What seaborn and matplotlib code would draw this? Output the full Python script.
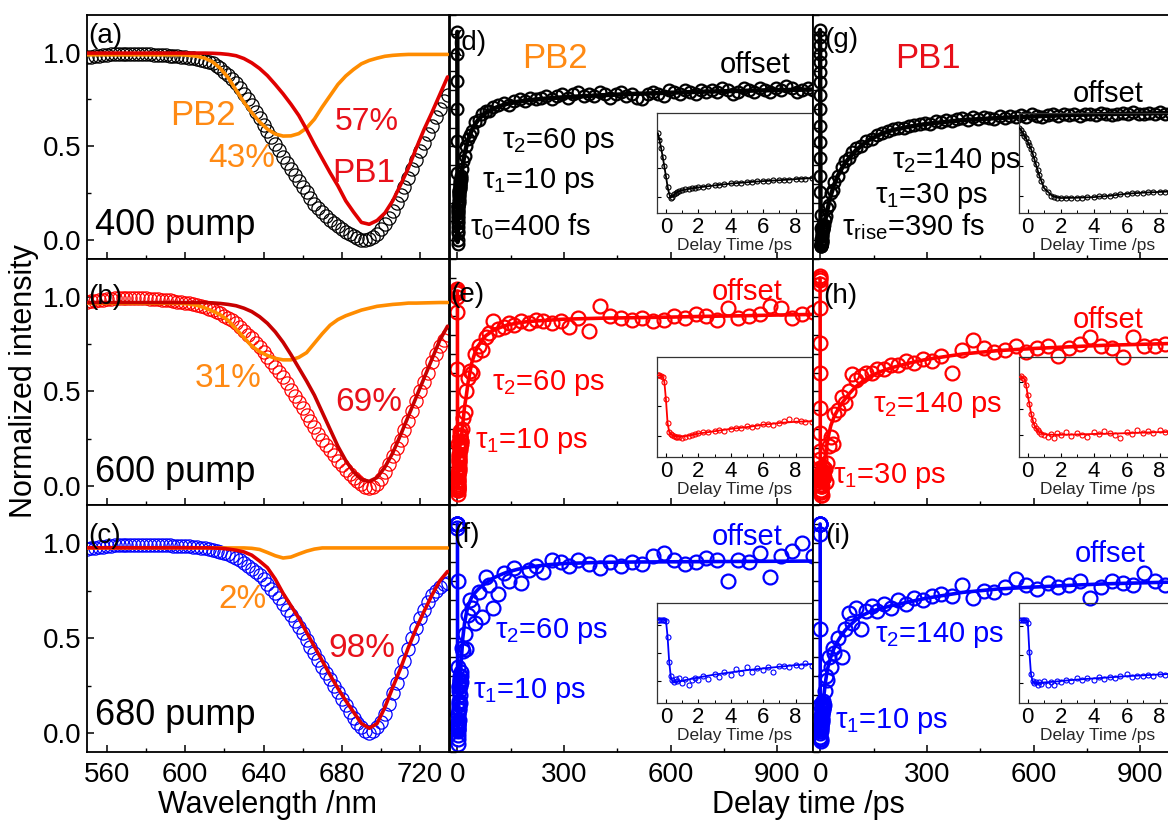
import numpy as np
import matplotlib
matplotlib.use("Agg")
import matplotlib.pyplot as plt
import seaborn as sns
from matplotlib.ticker import MultipleLocator, NullFormatter

# ---------------- data: steady-state spectra (panels a-c) ----------------
wavelength_fine = np.arange(550, 736, 2)   # measured points, 550 ... 734 nm (93)
wavelength = np.arange(550, 738, 4)        # fitted components, 550 ... 734 nm (47)

spec_a_data = [0.975, 0.978, 0.98, 0.983, 0.985, 0.988, 0.99, 0.99, 0.99, 0.99,
               0.99, 0.99, 0.99, 0.99, 0.99, 0.99, 0.99, 0.989, 0.988, 0.987,
               0.985, 0.984, 0.982, 0.98, 0.978, 0.975, 0.972, 0.969, 0.965, 0.96,
               0.955, 0.95, 0.943, 0.93, 0.915, 0.898, 0.88, 0.86, 0.84, 0.81,
               0.78, 0.75, 0.72, 0.685, 0.65, 0.615, 0.58, 0.548, 0.515, 0.48,
               0.445, 0.412, 0.38, 0.347, 0.315, 0.285, 0.255, 0.225, 0.195, 0.172,
               0.15, 0.128, 0.108, 0.09, 0.075, 0.06, 0.045, 0.032, 0.02, 0.01,
               0.003, 0.0, 0.005, 0.017, 0.035, 0.058, 0.085, 0.118, 0.155, 0.196,
               0.24, 0.285, 0.33, 0.377, 0.425, 0.473, 0.52, 0.565, 0.61, 0.655,
               0.70, 0.74, 0.775]
spec_a_pb1 = [0.997, 0.997, 0.997, 0.997, 0.997, 0.997, 0.997, 0.997, 0.997, 0.997,
              0.997, 0.997, 0.997, 0.997, 0.997, 0.997, 0.996, 0.994, 0.99, 0.983,
              0.968, 0.945, 0.915, 0.877, 0.83, 0.78, 0.725, 0.665, 0.59, 0.51,
              0.435, 0.36, 0.29, 0.21, 0.15, 0.095, 0.085, 0.105, 0.145, 0.21,
              0.295, 0.385, 0.49, 0.59, 0.68, 0.775, 0.87]
spec_a_pb2 = [0.988, 0.988, 0.988, 0.988, 0.988, 0.988, 0.988, 0.988, 0.988, 0.988,
              0.988, 0.988, 0.988, 0.985, 0.98, 0.97, 0.95, 0.915, 0.865, 0.80,
              0.735, 0.68, 0.63, 0.592, 0.566, 0.555, 0.556, 0.568, 0.598, 0.645,
              0.71, 0.77, 0.83, 0.875, 0.91, 0.94, 0.958, 0.97, 0.98, 0.985,
              0.988, 0.99, 0.99, 0.99, 0.99, 0.99, 0.99]

spec_b_data = [0.975, 0.978, 0.98, 0.983, 0.985, 0.988, 0.99, 0.993, 0.995, 0.995,
               0.995, 0.995, 0.995, 0.994, 0.993, 0.992, 0.99, 0.989, 0.987, 0.985,
               0.983, 0.981, 0.978, 0.975, 0.972, 0.969, 0.965, 0.961, 0.957, 0.951,
               0.945, 0.938, 0.93, 0.921, 0.912, 0.901, 0.89, 0.875, 0.86, 0.84,
               0.82, 0.80, 0.78, 0.757, 0.733, 0.707, 0.68, 0.655, 0.63, 0.604,
               0.577, 0.544, 0.51, 0.478, 0.445, 0.41, 0.375, 0.342, 0.31, 0.277,
               0.245, 0.217, 0.19, 0.162, 0.135, 0.11, 0.085, 0.064, 0.045, 0.026,
               0.01, -0.003, -0.01, -0.005, 0.01, 0.038, 0.075, 0.115, 0.16, 0.202,
               0.245, 0.295, 0.345, 0.398, 0.45, 0.50, 0.55, 0.60, 0.655, 0.70,
               0.74, 0.772, 0.80]
spec_b_pb1 = [0.97, 0.97, 0.97, 0.97, 0.97, 0.97, 0.97, 0.97, 0.97, 0.97,
              0.97, 0.97, 0.97, 0.97, 0.97, 0.97, 0.968, 0.965, 0.96, 0.953,
              0.94, 0.922, 0.895, 0.86, 0.815, 0.76, 0.695, 0.625, 0.555, 0.48,
              0.39, 0.30, 0.21, 0.135, 0.075, 0.035, 0.025, 0.045, 0.10, 0.175,
              0.27, 0.37, 0.47, 0.57, 0.67, 0.77, 0.845]
spec_b_pb2 = [0.966, 0.966, 0.966, 0.966, 0.966, 0.966, 0.966, 0.966, 0.966, 0.966,
              0.966, 0.966, 0.965, 0.962, 0.955, 0.942, 0.925, 0.905, 0.875, 0.83,
              0.785, 0.74, 0.71, 0.69, 0.675, 0.667, 0.667, 0.68, 0.705, 0.755,
              0.805, 0.85, 0.88, 0.90, 0.915, 0.93, 0.94, 0.95, 0.955, 0.96,
              0.963, 0.967, 0.967, 0.968, 0.969, 0.97, 0.97]

spec_c_data = [0.97, 0.973, 0.975, 0.978, 0.98, 0.983, 0.985, 0.988, 0.99, 0.99,
               0.99, 0.99, 0.99, 0.99, 0.99, 0.99, 0.99, 0.99, 0.99, 0.989,
               0.988, 0.987, 0.986, 0.985, 0.984, 0.983, 0.982, 0.98, 0.978, 0.975,
               0.972, 0.969, 0.965, 0.96, 0.955, 0.948, 0.94, 0.931, 0.92, 0.908,
               0.895, 0.88, 0.865, 0.848, 0.83, 0.808, 0.785, 0.76, 0.735, 0.708,
               0.68, 0.65, 0.62, 0.59, 0.56, 0.525, 0.49, 0.455, 0.42, 0.385,
               0.35, 0.318, 0.285, 0.25, 0.215, 0.18, 0.145, 0.112, 0.08, 0.052,
               0.03, 0.012, 0.0, 0.01, 0.03, 0.06, 0.10, 0.152, 0.21, 0.265,
               0.32, 0.38, 0.44, 0.498, 0.555, 0.605, 0.65, 0.69, 0.725, 0.75,
               0.77, 0.782, 0.79]
spec_c_pb1 = [0.975, 0.975, 0.975, 0.975, 0.975, 0.975, 0.975, 0.975, 0.975, 0.975,
              0.975, 0.975, 0.975, 0.975, 0.975, 0.975, 0.974, 0.972, 0.968, 0.962,
              0.953, 0.936, 0.905, 0.87, 0.81, 0.735, 0.67, 0.605, 0.53, 0.455,
              0.38, 0.305, 0.235, 0.17, 0.11, 0.05, 0.025, 0.05, 0.135, 0.24,
              0.34, 0.45, 0.55, 0.64, 0.725, 0.80, 0.85]
spec_c_pb2 = [0.974, 0.974, 0.974, 0.974, 0.974, 0.974, 0.974, 0.974, 0.974, 0.974,
              0.974, 0.974, 0.974, 0.974, 0.974, 0.974, 0.974, 0.974, 0.974, 0.974,
              0.974, 0.972, 0.966, 0.95, 0.933, 0.921, 0.926, 0.942, 0.957, 0.968,
              0.974, 0.974, 0.974, 0.974, 0.974, 0.974, 0.974, 0.974, 0.974, 0.974,
              0.974, 0.974, 0.974, 0.974, 0.974, 0.974, 0.974]

# ---------------- data: kinetics (panels d-i) ----------------
t_early = [-0.5, -0.4, -0.3, -0.2, -0.1, 0.0, 0.1, 0.2, 0.3, 0.4, 0.5, 0.6, 0.7, 0.8,
           1.0, 1.2, 1.4, 1.6, 1.8, 2.0, 2.3, 2.6, 3.0, 3.3, 3.6, 4.0, 4.3, 4.6,
           5.0, 5.3, 5.6, 6.0, 6.3, 6.6, 7.0, 7.3, 7.6, 8.0, 8.3, 8.6, 9.0]
t_fit_early = [-0.5, -0.4, -0.3, -0.2, -0.1, 0.0, 0.1, 0.2, 0.3, 0.4, 0.5, 0.7,
               1.0, 1.5, 2.0, 3.0, 4.0, 5.0, 6.0, 7.0, 8.0, 9.0]
t_late = [10, 13, 16, 20, 25, 30, 35, 40, 50, 60, 70, 80, 90, 100, 115, 130, 145, 160,
          180, 200, 220, 240, 265, 290, 315, 340, 370, 400, 430, 460, 490, 520, 550,
          580, 610, 640, 670, 700, 730, 760, 790, 820, 850, 880, 910, 940, 970, 1000]
t_late_dense = [10, 13, 16, 20, 25, 30, 35, 40, 50, 60, 70, 80, 90, 100,
                115, 130, 145, 160, 175, 190, 205, 220, 235, 250,
                265, 280, 295, 310, 325, 340, 355, 370, 385, 400,
                415, 430, 445, 460, 475, 490, 505, 520, 535, 550,
                565, 580, 595, 610, 625, 640, 655, 670, 685, 700,
                715, 730, 745, 760, 775, 790, 805, 820, 835, 850,
                865, 880, 895, 910, 925, 940, 955, 970, 985, 1000]
t_fit_late = [10, 15, 20, 25, 30, 40, 50, 60, 70, 80, 100, 120, 140, 170, 200, 250,
              300, 400, 500, 600, 700, 800, 900, 1000]

d_early = [1.11, 0.99, 0.85, 0.70, 0.53, 0.36, 0.18, 0.04, -0.02, 0.00,
           0.05, 0.07, 0.09, 0.105, 0.12, 0.13, 0.145, 0.15, 0.16, 0.165,
           0.18, 0.185, 0.20, 0.21, 0.22, 0.235, 0.24, 0.25, 0.255, 0.26,
           0.27, 0.275, 0.28, 0.29, 0.29, 0.30, 0.30, 0.31, 0.32, 0.32, 0.33]
d_fit_early = [1.11, 0.99, 0.85, 0.70, 0.53, 0.36, 0.18, 0.05, -0.01, 0.0, 0.04,
               0.085, 0.115, 0.145, 0.165, 0.20, 0.232, 0.255, 0.275, 0.29, 0.31, 0.33]
d_late = [0.34, 0.38, 0.42, 0.45, 0.50, 0.54, 0.56, 0.58, 0.63, 0.64, 0.67, 0.69, 0.69, 0.71,
          0.72, 0.73, 0.72, 0.74, 0.75, 0.74, 0.76, 0.75, 0.76, 0.77,
          0.75, 0.77, 0.78, 0.76, 0.78, 0.79, 0.77, 0.78, 0.77, 0.79,
          0.78, 0.76, 0.78, 0.79, 0.77, 0.78, 0.76, 0.75, 0.78, 0.79,
          0.78, 0.77, 0.80, 0.79, 0.78, 0.80, 0.79, 0.78, 0.80, 0.79,
          0.80, 0.79, 0.81, 0.80, 0.78, 0.79, 0.81, 0.80, 0.79, 0.81,
          0.80, 0.79, 0.81, 0.80, 0.82, 0.81, 0.79, 0.80, 0.81, 0.80]
d_fit_late = [0.33, 0.40, 0.46, 0.50, 0.535, 0.585, 0.62, 0.645, 0.665, 0.68, 0.70, 0.715,
              0.727, 0.738, 0.746, 0.755, 0.762, 0.772, 0.78, 0.786, 0.792, 0.796, 0.80, 0.803]

e_early = [1.03, 1.04, 1.02, 1.00, 0.92, 0.62, 0.22, 0.07, 0.03, 0.01,
           0.00, -0.01, -0.02, -0.01, -0.04, -0.02, 0.00, 0.02, 0.03, 0.05,
           0.06, 0.07, 0.08, 0.10, 0.09, 0.12, 0.14, 0.13, 0.16, 0.15,
           0.17, 0.20, 0.21, 0.19, 0.22, 0.26, 0.29, 0.27, 0.26, 0.24, 0.24]
e_fit_early = [1.03, 1.03, 1.03, 1.01, 0.92, 0.62, 0.22, 0.07, 0.03, 0.01, 0.0,
               -0.01, -0.01, 0.01, 0.04, 0.08, 0.12, 0.15, 0.19, 0.22, 0.24, 0.25]
e_late = [0.22, 0.30, 0.36, 0.39, 0.50, 0.57, 0.61, 0.60, 0.70, 0.74,
          0.72, 0.79, 0.81, 0.87, 0.83, 0.84, 0.86, 0.85, 0.87, 0.86,
          0.88, 0.87, 0.86, 0.87, 0.84, 0.89, 0.82, 0.95, 0.90, 0.89,
          0.88, 0.89, 0.87, 0.88, 0.90, 0.89, 0.91, 0.90, 0.88, 0.94,
          0.89, 0.90, 0.91, 0.95, 0.94, 0.89, 0.91, 0.92]
e_fit_late = [0.24, 0.33, 0.42, 0.48, 0.55, 0.65, 0.71, 0.745, 0.775, 0.795, 0.822, 0.838,
              0.851, 0.862, 0.87, 0.876, 0.882, 0.887, 0.89, 0.893, 0.897, 0.90, 0.904, 0.907]

f_early = [1.10, 1.10, 1.10, 1.10, 1.10, 1.08, 0.80, 0.35, 0.10, 0.02,
           -0.01, 0.05, 0.01, 0.06, -0.03, 0.04, -0.06, 0.03, 0.06, 0.02,
           0.10, 0.05, 0.13, 0.07, 0.16, 0.12, 0.22, 0.15, 0.25, 0.17,
           0.24, 0.20, 0.26, 0.16, 0.28, 0.27, 0.25, 0.30, 0.28, 0.32, 0.27]
f_fit_early = [1.10, 1.10, 1.10, 1.10, 1.10, 1.09, 0.80, 0.35, 0.08, 0.0, -0.02,
               -0.01, 0.01, 0.04, 0.07, 0.12, 0.16, 0.20, 0.23, 0.26, 0.29, 0.31]
f_late = [0.30, 0.45, 0.43, 0.52, 0.44, 0.62, 0.70, 0.66, 0.58, 0.74,
          0.61, 0.82, 0.78, 0.66, 0.73, 0.84, 0.80, 0.87, 0.79, 0.86,
          0.88, 0.85, 0.91, 0.90, 0.88, 0.91, 0.89, 0.87, 0.90, 0.88,
          0.90, 0.89, 0.93, 0.95, 0.91, 0.89, 0.90, 0.92, 0.91, 0.80,
          0.91, 0.90, 0.95, 0.82, 0.93, 0.96, 1.00, 0.93]
f_fit_late = [0.36, 0.50, 0.58, 0.63, 0.67, 0.715, 0.74, 0.76, 0.775, 0.79, 0.815, 0.832,
              0.847, 0.862, 0.873, 0.885, 0.892, 0.898, 0.90, 0.901, 0.902, 0.903, 0.904, 0.905]

g_early = [1.12, 1.082, 1.038, 0.994, 0.95, 0.895, 0.841, 0.775, 0.698, 0.611,
           0.523, 0.436, 0.342, 0.255, 0.134, 0.063, 0.008, -0.014, -0.025, -0.03,
           -0.03, -0.03, -0.025, -0.025, -0.02, -0.014, -0.003, -0.003, 0.008, 0.02,
           0.03, 0.041, 0.047, 0.052, 0.058, 0.063, 0.063, 0.069, 0.075, 0.075, 0.08]
g_fit_early = [1.12, 1.08, 1.04, 0.99, 0.95, 0.895, 0.84, 0.775, 0.70, 0.61, 0.52,
               0.34, 0.13, 0.0, -0.03, -0.025, -0.015, 0.008, 0.04, 0.058, 0.07, 0.08]
g_late = [0.08, 0.11, 0.13, 0.17, 0.19, 0.25, 0.27, 0.31, 0.34, 0.39, 0.42, 0.44, 0.47, 0.49,
          0.50, 0.53, 0.54, 0.56, 0.57, 0.58, 0.59, 0.60, 0.60, 0.61,
          0.615, 0.62, 0.625, 0.62, 0.635, 0.63, 0.64, 0.635, 0.645, 0.65,
          0.64, 0.655, 0.645, 0.655, 0.65, 0.645, 0.66, 0.65, 0.66, 0.655,
          0.665, 0.655, 0.67, 0.66, 0.655, 0.665, 0.67, 0.66, 0.675, 0.665,
          0.67, 0.66, 0.675, 0.67, 0.665, 0.68, 0.67, 0.665, 0.675, 0.68,
          0.67, 0.685, 0.675, 0.67, 0.68, 0.675, 0.685, 0.67, 0.68, 0.675]
g_fit_late = [0.09, 0.12, 0.16, 0.20, 0.24, 0.30, 0.345, 0.38, 0.41, 0.435, 0.478, 0.51,
              0.537, 0.565, 0.585, 0.605, 0.62, 0.64, 0.651, 0.66, 0.667, 0.672, 0.675, 0.678]

h_early = [1.10, 1.11, 1.09, 1.07, 0.94, 0.754, 0.597, 0.41, 0.282, 0.188,
           0.144, 0.094, 0.062, 0.031, 0.0, -0.032, 0.031, -0.045, 0.043, 0.0,
           0.062, -0.019, 0.05, 0.012, -0.032, 0.056, 0.031, 0.075, 0.043, 0.0,
           -0.045, 0.062, 0.031, 0.094, 0.05, 0.081, 0.043, 0.10, 0.062, 0.069, 0.056]
h_fit_early = [1.10, 1.10, 1.09, 1.06, 0.95, 0.76, 0.59, 0.42, 0.29, 0.19, 0.13,
               0.06, 0.02, 0.01, 0.01, 0.015, 0.025, 0.03, 0.04, 0.05, 0.06, 0.065]
h_late = [0.05, 0.09, 0.02, 0.12, 0.21, 0.26, 0.22, 0.38, 0.40, 0.47,
          0.44, 0.50, 0.59, 0.56, 0.58, 0.60, 0.60, 0.62, 0.62, 0.64,
          0.64, 0.66, 0.65, 0.67, 0.66, 0.69, 0.60, 0.72, 0.77, 0.73,
          0.71, 0.72, 0.74, 0.71, 0.73, 0.74, 0.69, 0.73, 0.75, 0.79,
          0.74, 0.73, 0.68, 0.79, 0.74, 0.74, 0.75, 0.76]
h_fit_late = [0.10, 0.17, 0.23, 0.28, 0.32, 0.37, 0.405, 0.435, 0.46, 0.485, 0.525, 0.555,
              0.58, 0.605, 0.625, 0.65, 0.67, 0.698, 0.716, 0.727, 0.736, 0.744, 0.749, 0.754]

i_early = [1.10, 1.10, 1.10, 1.10, 1.10, 1.05, 0.55, 0.15, 0.03, 0.0,
           0.02, -0.03, 0.01, -0.02, 0.03, -0.04, 0.02, -0.03, 0.04, 0.01,
           0.06, 0.03, 0.08, 0.05, 0.09, 0.06, 0.10, 0.07, 0.11, 0.08,
           0.12, 0.15, 0.10, 0.13, 0.12, 0.14, 0.13, 0.15, 0.14, 0.16, 0.17]
i_fit_early = [1.10, 1.10, 1.10, 1.10, 1.10, 1.10, 0.55, 0.15, 0.03, 0.0, 0.0,
               0.0, 0.01, 0.02, 0.035, 0.06, 0.08, 0.10, 0.12, 0.135, 0.15, 0.165]
i_late = [0.15, 0.22, 0.30, 0.28, 0.40, 0.35, 0.45, 0.42, 0.50, 0.40,
          0.55, 0.63, 0.58, 0.66, 0.55, 0.64, 0.67, 0.64, 0.68, 0.66,
          0.70, 0.68, 0.71, 0.70, 0.72, 0.73, 0.72, 0.78, 0.71, 0.75,
          0.74, 0.77, 0.81, 0.78, 0.76, 0.79, 0.77, 0.78, 0.80, 0.71,
          0.77, 0.80, 0.79, 0.78, 0.84, 0.80, 0.78, 0.82]
i_fit_late = [0.19, 0.27, 0.33, 0.37, 0.40, 0.45, 0.485, 0.515, 0.54, 0.56, 0.595, 0.62,
              0.638, 0.655, 0.67, 0.69, 0.71, 0.74, 0.758, 0.768, 0.777, 0.785, 0.79, 0.795]

# ---------------- style ----------------
sns.set_theme(style="ticks", rc={
    "axes.edgecolor": "black", "axes.linewidth": 1.3,
    "xtick.direction": "in", "ytick.direction": "in",
    "xtick.color": "black", "ytick.color": "black",
    "axes.facecolor": "white", "figure.facecolor": "white",
})
plt.rcParams["font.family"] = ["Liberation Sans", "DejaVu Sans"]
plt.rcParams["mathtext.fontset"] = "custom"
plt.rcParams["mathtext.rm"] = "Liberation Sans"
plt.rcParams["mathtext.it"] = "Liberation Sans:italic"
plt.rcParams["mathtext.bf"] = "Liberation Sans:bold"
plt.rcParams["mathtext.sf"] = "Liberation Sans"

ORANGE = "#FF8C00"
ORANGE_T = "#FF8A14"
RED = "#FF0000"
RED_T = "#E8101A"
BLUE = "#0000FF"

W, H = 1168, 821
fig = plt.figure(figsize=(W / 100, H / 100), dpi=100)


def px_axes(l, t, r, b):
    return fig.add_axes([l / W, 1 - b / H, (r - l) / W, (b - t) / H])


def ftext(x, y, s, color="black", size=20, ha="left", va="baseline", **kw):
    fig.text(x / W, 1 - y / H, s, color=color, fontsize=size, ha=ha, va=va, **kw)


def circles(ax, x, y, color, ms, mew, z=2):
    sns.lineplot(x=x, y=y, ax=ax, estimator=None, sort=False, errorbar=None,
                 linestyle="none", marker="o", markersize=ms,
                 markerfacecolor="none", markeredgecolor=color,
                 markeredgewidth=mew, color=color, zorder=z, legend=False)


def curve(ax, x, y, color, lw, z=3):
    sns.lineplot(x=x, y=y, ax=ax, estimator=None, sort=False, errorbar=None,
                 color=color, linewidth=lw, zorder=z, legend=False)


rows_px = [(15, 259), (259, 505), (505, 752)]
cols_px = [(87.3, 449.5), (450, 812.7), (812.7, 1175.5)]
ins_cols = [None, (656.7, 812.7), (1019.3, 1175.5)]
ins_xlim = [None, (-0.57, 9.05), (-0.51, 8.96)]

# ---------------- column 1: spectra ----------------
spec_panels = [
    (spec_a_data, spec_a_pb1, spec_a_pb2, "black", "#E00000"),
    (spec_b_data, spec_b_pb1, spec_b_pb2, RED, "#C80000"),
    (spec_c_data, spec_c_pb1, spec_c_pb2, BLUE, "#E00000"),
]
for r, (dat, pb1, pb2, dc, pc) in enumerate(spec_panels):
    t, b = rows_px[r]
    ax = px_axes(cols_px[0][0], t, cols_px[0][1], b)
    circles(ax, wavelength_fine, dat, dc, 9.5, 0.9, z=2)
    curve(ax, wavelength, pb2, ORANGE, 2.6, z=3)
    curve(ax, wavelength, pb1, pc, 2.6, z=4)
    ax.set_xlim(550, 735)
    ax.set_ylim(-0.1, 1.2)
    ax.xaxis.set_major_locator(MultipleLocator(40))
    ax.xaxis.set_minor_locator(MultipleLocator(20))
    ax.yaxis.set_major_locator(MultipleLocator(0.5))
    ax.yaxis.set_minor_locator(MultipleLocator(0.25))
    ax.tick_params(which="major", length=5, width=1.1, labelsize=20)
    ax.tick_params(which="minor", length=3, width=1.0)
    ax.tick_params(axis="x", pad=7)
    ax.tick_params(axis="y", pad=4)
    ax.tick_params(top=False, right=False, which="both")
    if r < 2:
        ax.tick_params(labelbottom=False)
    ax.set_xlabel("")
    ax.set_ylabel("")

# ---------------- columns 2-3: kinetics ----------------
kin = [
    (1, 0, "black", d_early, d_fit_early, t_late_dense, d_late, d_fit_late, (-0.28, 1.46), 8.5, 3.2),
    (1, 1, RED, e_early, e_fit_early, t_late, e_late, e_fit_late, (-0.358, 1.34), 10.0, 2.6),
    (1, 2, BLUE, f_early, f_fit_early, t_late, f_late, f_fit_late, (-0.387, 1.398), 10.0, 2.6),
    (2, 0, "black", g_early, g_fit_early, t_late_dense, g_late, g_fit_late, (-0.276, 1.366), 8.5, 3.2),
    (2, 1, RED, h_early, h_fit_early, t_late, h_late, h_fit_late, (-0.41, 1.477), 10.0, 2.6),
    (2, 2, BLUE, i_early, i_fit_early, t_late, i_late, i_fit_late, (-0.351, 1.404), 10.0, 2.6),
]
for col, row, c, early, fe, tl, late, fl, iyl, ms, lw in kin:
    t, b = rows_px[row]
    l, r = cols_px[col]
    ax = px_axes(l, t, r, b)
    circles(ax, list(t_early) + list(tl), list(early) + list(late), c, ms, 1.6, z=2)
    curve(ax, list(t_fit_early) + list(t_fit_late), list(fe) + list(fl), c, lw, z=3)
    ax.set_xlim(-21, 999)
    ax.set_ylim(-0.1, 1.2)
    ax.xaxis.set_major_locator(MultipleLocator(300))
    ax.xaxis.set_minor_locator(MultipleLocator(150))
    ax.yaxis.set_major_locator(MultipleLocator(0.1))
    ax.yaxis.set_major_formatter(NullFormatter())
    ax.tick_params(which="major", axis="x", length=5, width=1.1, labelsize=20, pad=7)
    ax.tick_params(which="minor", axis="x", length=3, width=1.0)
    ax.tick_params(axis="y", length=4, width=1.0)
    ax.tick_params(top=False, right=False, which="both")
    if row < 2:
        ax.tick_params(labelbottom=False)
    ax.set_xlabel("")
    ax.set_ylabel("")

    il, ir = ins_cols[col]
    ia = px_axes(il, t + 98, ir, t + 198)
    ia.set_facecolor("none")
    circles(ia, t_early, early, c, 3.6, 0.8, z=2)
    curve(ia, t_fit_early, fe, c, 1.3, z=3)
    ia.set_xlim(*ins_xlim[col])
    ia.set_ylim(*iyl)
    ia.xaxis.set_major_locator(MultipleLocator(2))
    ia.xaxis.set_minor_locator(MultipleLocator(1))
    ia.yaxis.set_major_locator(MultipleLocator(0.5))
    ia.yaxis.set_major_formatter(NullFormatter())
    ia.tick_params(which="major", length=3, width=0.8, labelsize=16, pad=3)
    ia.tick_params(which="minor", length=2, width=0.7)
    ia.tick_params(top=False, right=False, which="both")
    ia.set_xlabel("Delay Time /ps", fontsize=12.5, labelpad=0)
    ia.set_ylabel("")
    for s in ia.spines.values():
        s.set_linewidth(0.9)
        s.set_color("#333333")

# ---------------- annotations ----------------
for s, x, y in [("(a)", 88, 43), ("(b)", 88, 304), ("(c)", 88, 542.7),
                ("(d)", 452, 50), ("(e)", 450, 301.7), ("(f)", 453, 541.7),
                ("(g)", 824, 46.7), ("(h)", 823, 303.3), ("(i)", 825, 542.7)]:
    ftext(x, y, s, size=20)

ftext(95, 235, "400 pump", size=26)
ftext(95, 481.7, "600 pump", size=26)
ftext(95, 725, "680 pump", size=26)

ftext(170, 125, "PB2", color=ORANGE_T, size=25)
ftext(208, 166.7, "43%", color=ORANGE_T, size=24)
ftext(335, 130, "57%", color=RED_T, size=23)
ftext(332, 181.7, "PB1", color=RED_T, size=24)
ftext(195, 386.7, "31%", color=ORANGE_T, size=24)
ftext(335, 411, "69%", color=RED_T, size=24)
ftext(218, 608.3, "2%", color=ORANGE_T, size=24)
ftext(328, 657.3, "98%", color=RED_T, size=24)

ftext(521.7, 68.3, "PB2", color=ORANGE_T, size=25)
ftext(895, 68.3, "PB1", color=RED_T, size=25)

ftext(720, 73.3, "offset", size=21)
ftext(1073, 101.7, "offset", size=21)
ftext(711.7, 300, "offset", color=RED, size=21)
ftext(1073, 328.3, "offset", color=RED, size=21)
ftext(711.7, 545, "offset", color=BLUE, size=21)
ftext(1075, 561.7, "offset", color=BLUE, size=21)

ftext(501.7, 148.3, "τ$_2$=60 ps", size=21)
ftext(481.7, 188.3, "τ$_1$=10 ps", size=21)
ftext(470, 235, "τ$_0$=400 fs", size=21)
ftext(891.7, 168.3, "τ$_2$=140 ps", size=21)
ftext(875, 203.3, "τ$_1$=30 ps", size=21)
ftext(841.7, 235, r"τ$_{\mathrm{rise}}$=390 fs", size=21)

ftext(491.7, 390, "τ$_2$=60 ps", color=RED, size=21)
ftext(475, 448.3, "τ$_1$=10 ps", color=RED, size=21)
ftext(873.3, 411.7, "τ$_2$=140 ps", color=RED, size=21)
ftext(833.3, 483.3, "τ$_1$=30 ps", color=RED, size=21)

ftext(495, 638.3, "τ$_2$=60 ps", color=BLUE, size=21)
ftext(473.3, 698.3, "τ$_1$=10 ps", color=BLUE, size=21)
ftext(875, 641.7, "τ$_2$=140 ps", color=BLUE, size=21)
ftext(835, 728.3, "τ$_1$=10 ps", color=BLUE, size=21)

ftext(24, 381, "Normalized intensity", size=22, ha="center", va="center", rotation=90)
ftext(268, 813, "Wavelength /nm", size=22, ha="center")
ftext(808, 813, "Delay time /ps", size=22, ha="center")

fig.savefig("out.png", dpi=100)
